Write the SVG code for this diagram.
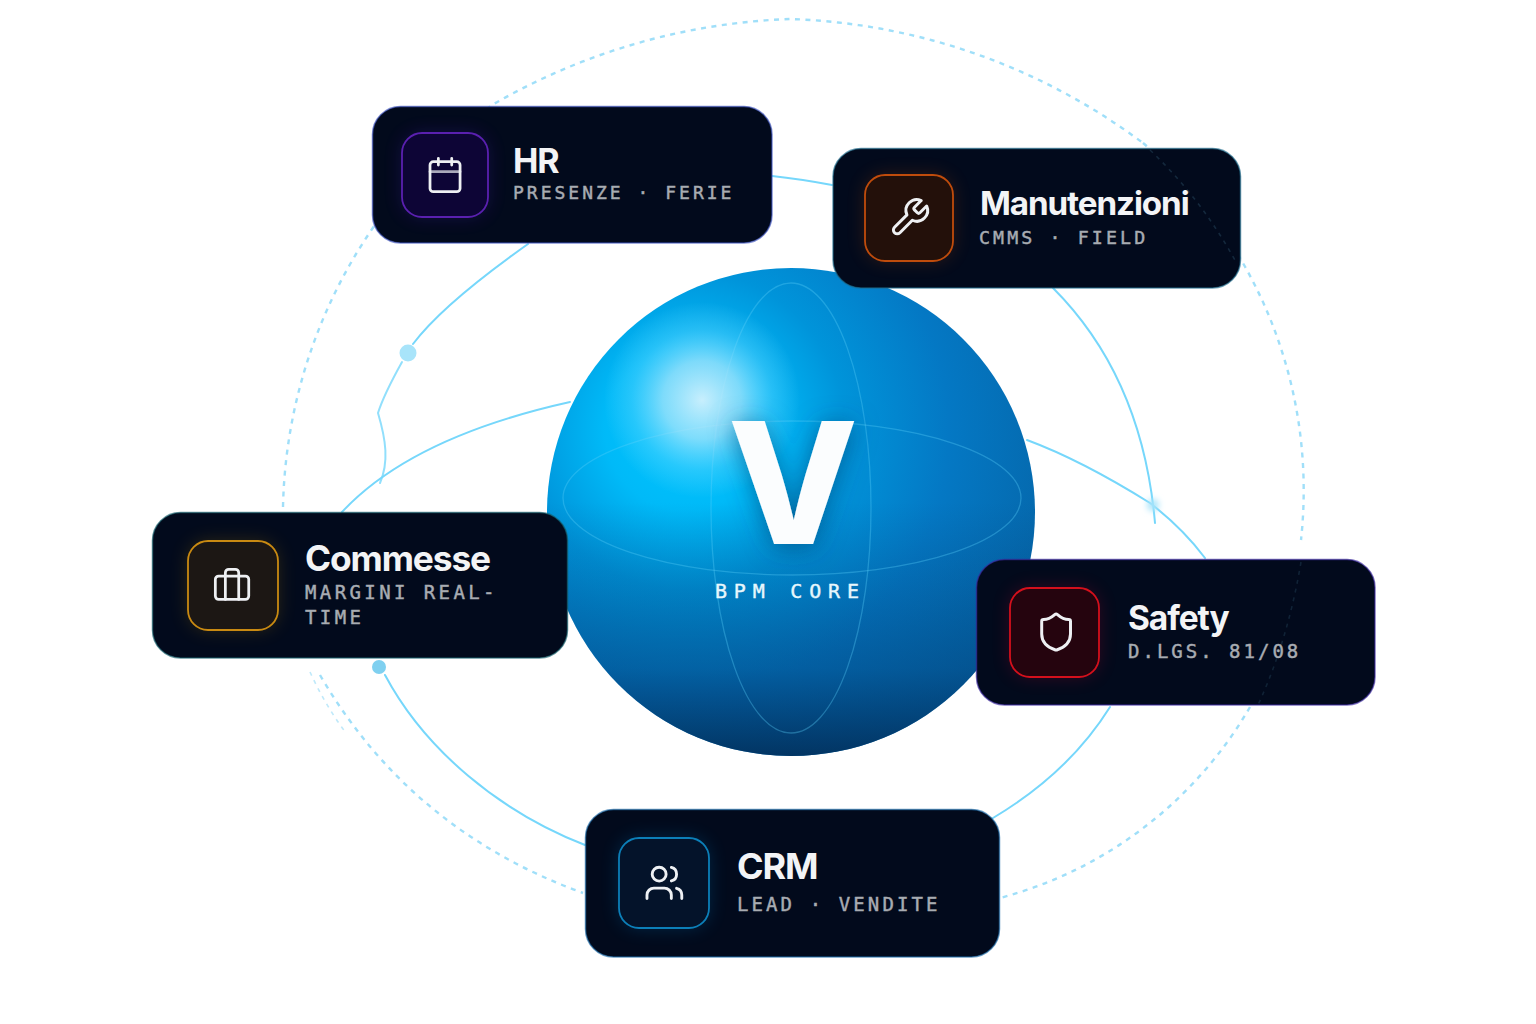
<svg xmlns="http://www.w3.org/2000/svg" width="1536" height="1024" viewBox="0 0 1536 1024">
  <style>
    .card { fill: #020a1c; stroke-width: 1.5; stroke-opacity: .65; }
    .box { stroke-width: 1.8; }
    .halo { filter: url(#soft); opacity: .26; }
    .icon { fill: none; stroke: #eef0f3; stroke-width: 1.65; stroke-linecap: round; stroke-linejoin: round; }
    .title { font-family: Inter, "Liberation Sans", sans-serif; font-weight: 700; letter-spacing: -1.1px; fill: #f3f4f6; }
    .sub { font-family: "DejaVu Sans Mono", "Liberation Mono", monospace; fill: #a8acb2; stroke: #a8acb2; stroke-width: .45; }
    .wire { fill: none; stroke: #76d7fb; stroke-width: 2; stroke-linecap: round; }
    .ring { fill: none; stroke: #7bd3f6; stroke-width: 2.4; stroke-dasharray: 5 5.500; opacity: .72; }
    .faint { fill: none; stroke: #7fd4f5; stroke-width: 1.6; stroke-dasharray: 4 5; }
    .orbit { fill: none; stroke: #5cd0f8; stroke-width: 1.3; opacity: .34; }
  </style>
  <defs>
    <radialGradient id="ballBase" gradientUnits="userSpaceOnUse" cx="685" cy="430" r="400">
      <stop offset="0" stop-color="#00c6ff"/>
      <stop offset=".2" stop-color="#00baf8"/>
      <stop offset=".4" stop-color="#0094da"/>
      <stop offset=".66" stop-color="#0478c4"/>
      <stop offset="1" stop-color="#0564a6"/>
    </radialGradient>
    <linearGradient id="ballShade" x1="0" y1="0" x2="0" y2="1">
      <stop offset=".48" stop-color="#023a70" stop-opacity="0"/>
      <stop offset=".82" stop-color="#023a70" stop-opacity=".42"/>
      <stop offset="1" stop-color="#02305c" stop-opacity=".92"/>
    </linearGradient>
    <radialGradient id="ballShine">
      <stop offset="0" stop-color="#d2f1fd" stop-opacity=".95"/>
      <stop offset=".4" stop-color="#aee6fb" stop-opacity=".72"/>
      <stop offset=".72" stop-color="#7fdcff" stop-opacity=".3"/>
      <stop offset="1" stop-color="#7fdcff" stop-opacity="0"/>
    </radialGradient>
    <filter id="soft" x="-40%" y="-40%" width="180%" height="180%"><feGaussianBlur stdDeviation="9"/></filter>
    <filter id="spot" x="-60%" y="-60%" width="220%" height="220%"><feGaussianBlur stdDeviation="3"/></filter>
    <filter id="lift" x="-40%" y="-40%" width="180%" height="180%"><feDropShadow dx="0" dy="3" stdDeviation="12" flood-color="#03406f" flood-opacity=".6"/></filter>
  </defs>

  <rect width="1536" height="1024" fill="#ffffff"/>

  <g id="connectors">
    <!-- outer dashed orbit -->
    <path class="ring" d="M283 507A512 512 0 0 1 492 105A640 640 0 0 1 790 19A624 624 0 0 1 1143 143"/>
    <path class="ring" opacity=".55" d="M1143 143A456 456 0 0 1 1301 540"/>
    <path class="ring" d="M1250 707A410 410 0 0 1 1000 898"/>
    <path class="ring" d="M320 675Q410 830 583 893"/>
    <path class="faint" opacity=".5" d="M310 672Q325 705 346 733"/>
    <!-- solid links -->
    <path class="wire" d="M528 244C480 278 437 312 413 344"/>
    <path class="wire" d="M402 362C392 380 383 397 378 413C386 440 389 462 380 483" stroke-opacity=".8"/>
    <path class="wire" d="M570 402C480 422 395 455 342 512"/>
    <path class="wire" d="M772 176Q800 179 832 185"/>
    <path class="wire" d="M1053 288C1110 345 1146 420 1155 523"/>
    <path class="wire" d="M1027 440C1070 456 1110 478 1150 503C1172 520 1190 538 1205 558"/>
    <path class="wire" d="M385 675C425 750 500 812 585 845"/>
    <path class="wire" d="M1110 707C1080 755 1040 790 993 818"/>
    <!-- link junctions -->
    <circle cx="408" cy="353" r="8.500" fill="#a8e4fa"/>
    <circle cx="379" cy="667" r="7" fill="#7fd0f0"/>
    <circle cx="1153" cy="505" r="6" fill="#a8e4fa" filter="url(#spot)"/>
  </g>

  <g id="core">
    <circle cx="791" cy="512" r="244" fill="url(#ballBase)"/>
    <circle cx="791" cy="512" r="244" fill="url(#ballShade)"/>
    <ellipse class="orbit" cx="792" cy="498" rx="229" ry="77"/>
    <ellipse class="orbit" cx="791" cy="508" rx="80" ry="225"/>
    <circle cx="702" cy="400" r="98" fill="url(#ballShine)"/>
    <text x="793" y="544" text-anchor="middle" font-family="Inter, 'Liberation Sans', sans-serif" font-weight="800" font-size="169" fill="#fbfdfe" filter="url(#lift)">V</text>
    <text x="715" y="598" font-family="'DejaVu Sans Mono', 'Liberation Mono', monospace" font-size="20" letter-spacing="6.800" fill="#e8f7fd" stroke="#e8f7fd" stroke-width=".4">BPM CORE</text>
  </g>

  <g id="node-hr">
    <rect class="card" x="372.500" y="106.500" width="399.500" height="136.500" rx="28" stroke="#3f55c0"/>
    <rect class="halo" x="402" y="133" width="86" height="84" rx="20" fill="#4a16b8"/>
    <rect class="box" x="402" y="133" width="86" height="84" rx="20" fill="#0d0536" stroke="#5a20b0"/>
    <g class="icon" transform="translate(425 155) scale(1.67)">
      <path d="M8 2v4M16 2v4"/><rect x="3" y="4" width="18" height="18" rx="2"/><path d="M3 10h18" stroke-opacity=".7"/>
    </g>
    <text class="title" x="513" y="173" font-size="34">HR</text>
    <text class="sub" x="513" y="199" font-size="18" letter-spacing="3">PRESENZE · FERIE</text>
  </g>

  <g id="node-manutenzioni">
    <rect class="card" x="833" y="148.500" width="407.500" height="139.500" rx="28" stroke="#1f6c8c"/>
    <rect class="halo" x="865" y="175" width="88" height="86" rx="20" fill="#b84a10"/>
    <rect class="box" x="865" y="175" width="88" height="86" rx="20" fill="#23100a" stroke="#c04c0c"/>
    <g class="icon" transform="translate(888 196) scale(1.8)">
      <path d="M14.700 6.300a1 1 0 0 0 0 1.400l1.600 1.600a1 1 0 0 0 1.400 0l3.770-3.770a6 6 0 0 1-7.940 7.940l-6.910 6.910a2.120 2.120 0 0 1-3-3l6.910-6.910a6 6 0 0 1 7.940-7.940l-3.760 3.760z"/>
    </g>
    <text class="title" x="980" y="215" font-size="33.200">Manutenzioni</text>
    <text class="sub" x="979" y="244" font-size="18.300" letter-spacing="3.100">CMMS · FIELD</text>
    <path class="faint" opacity=".15" d="M1150 150A456 456 0 0 1 1236 262"/>
  </g>

  <g id="node-commesse">
    <rect class="card" x="152.500" y="512.500" width="415" height="145.500" rx="28" stroke="#16606c"/>
    <rect class="halo" x="188" y="541" width="90" height="89" rx="20" fill="#a87a10"/>
    <rect class="box" x="188" y="541" width="90" height="89" rx="20" fill="#1c1714" stroke="#c98a12"/>
    <g class="icon" transform="translate(212 566) scale(1.67)">
      <path d="M16 20V4a2 2 0 0 0-2-2h-4a2 2 0 0 0-2 2v16"/><rect x="2" y="6" width="20" height="14" rx="2"/>
    </g>
    <text class="title" x="305" y="571" font-size="35.300">Commesse</text>
    <text class="sub" x="305" y="599" font-size="19" letter-spacing="3.400">MARGINI REAL-</text>
    <text class="sub" x="305" y="624" font-size="19" letter-spacing="3.400">TIME</text>
  </g>

  <g id="node-safety">
    <rect class="card" x="976.500" y="559.500" width="398.500" height="145.500" rx="28" stroke="#3c2aa0"/>
    <rect class="halo" x="1010" y="588" width="89" height="89" rx="20" fill="#c00a20"/>
    <rect class="box" x="1010" y="588" width="89" height="89" rx="20" fill="#25040e" stroke="#d4101c"/>
    <g class="icon" transform="translate(1034.500 610.500) scale(1.8)">
      <path d="M20 13c0 5-3.500 7.500-7.660 8.950a1 1 0 0 1-.67-.01C7.500 20.500 4 18 4 13V6a1 1 0 0 1 1-1c2 0 4.500-1.200 6.240-2.720a1.170 1.170 0 0 1 1.520 0C14.510 3.810 17 5 19 5a1 1 0 0 1 1 1z"/>
    </g>
    <text class="title" x="1128" y="630" font-size="33.500">Safety</text>
    <text class="sub" x="1128" y="658" font-size="19" letter-spacing="3">D.LGS. 81/08</text>
    <path class="faint" opacity=".12" d="M1301 562Q1288 640 1258 705"/>
  </g>

  <g id="node-crm">
    <rect class="card" x="585.500" y="809.500" width="414" height="147.500" rx="28" stroke="#1b6aa8"/>
    <rect class="halo" x="619" y="838" width="90" height="90" rx="20" fill="#0a80c8"/>
    <rect class="box" x="619" y="838" width="90" height="90" rx="20" fill="#04132a" stroke="#0c7fb8"/>
    <g class="icon" transform="translate(643.500 862) scale(1.74)">
      <path d="M16 21v-2a4 4 0 0 0-4-4H6a4 4 0 0 0-4 4v2"/><circle cx="9" cy="7" r="4"/><path d="M22 21v-2a4 4 0 0 0-3-3.870"/><path d="M16 3.130a4 4 0 0 1 0 7.750"/>
    </g>
    <text class="title" x="737" y="879" font-size="36">CRM</text>
    <text class="sub" x="737" y="911" font-size="19" letter-spacing="3.100">LEAD · VENDITE</text>
  </g>
</svg>
